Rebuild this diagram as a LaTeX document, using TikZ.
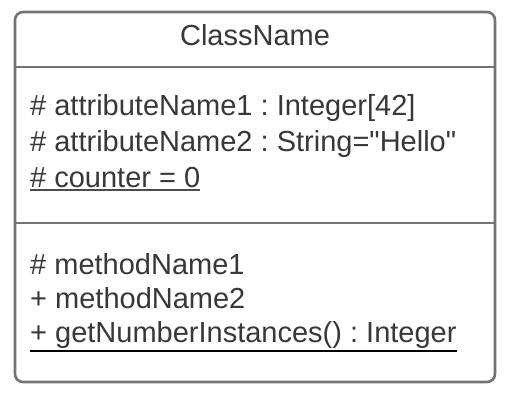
\documentclass[tikz,border=0pt]{standalone}
\usepackage{fontspec}
\setmainfont{Liberation Sans}[Ligatures=TeXOff]
\usetikzlibrary{calc}
\frenchspacing

\tikzset{
  umlbox/.style={draw=black!55, line width=2.6pt, rounded corners=8pt},
  umlline/.style={draw=black!55, line width=2.6pt},
  member/.style={anchor=base west, inner sep=0pt, text=black!78,
    font=\fontsize{29}{35}\selectfont},
}

\begin{document}
\begin{tikzpicture}[x=1pt, y=-1pt]
  \useasboundingbox (0,0) rectangle (518,410);
  % class box
  \draw[umlbox, fill=white] (15,12) rectangle (495,382);
  \draw[umlline] (15,67) -- (495,67);
  \draw[umlline] (15,223) -- (495,223);
  % header
  \node[member, anchor=base] (title) at (255,45) {ClassName};
  % attributes
  \node[member] (attr1) at (30,115) {\# attributeName1 : Integer[42]};
  \node[member] (attr2) at (30,151) {\# attributeName2 : String="Hello"};
  \node[member] (counter) at (30,187) {\# counter = 0};
  \draw[black!70, line width=2pt] ([yshift=-3pt]counter.base west) -- ([yshift=-3pt]counter.base east);
  % operations
  \node[member] (meth1) at (30,274) {\# methodName1};
  \node[member] (meth2) at (30,308) {+ methodName2};
  \node[member] (getinst) at (30,342) {+ getNumberInstances() : Integer};
  \draw[black, line width=2.4pt] ([yshift=-9pt]getinst.base west) -- ([yshift=-9pt]getinst.base east);
\end{tikzpicture}
\end{document}
